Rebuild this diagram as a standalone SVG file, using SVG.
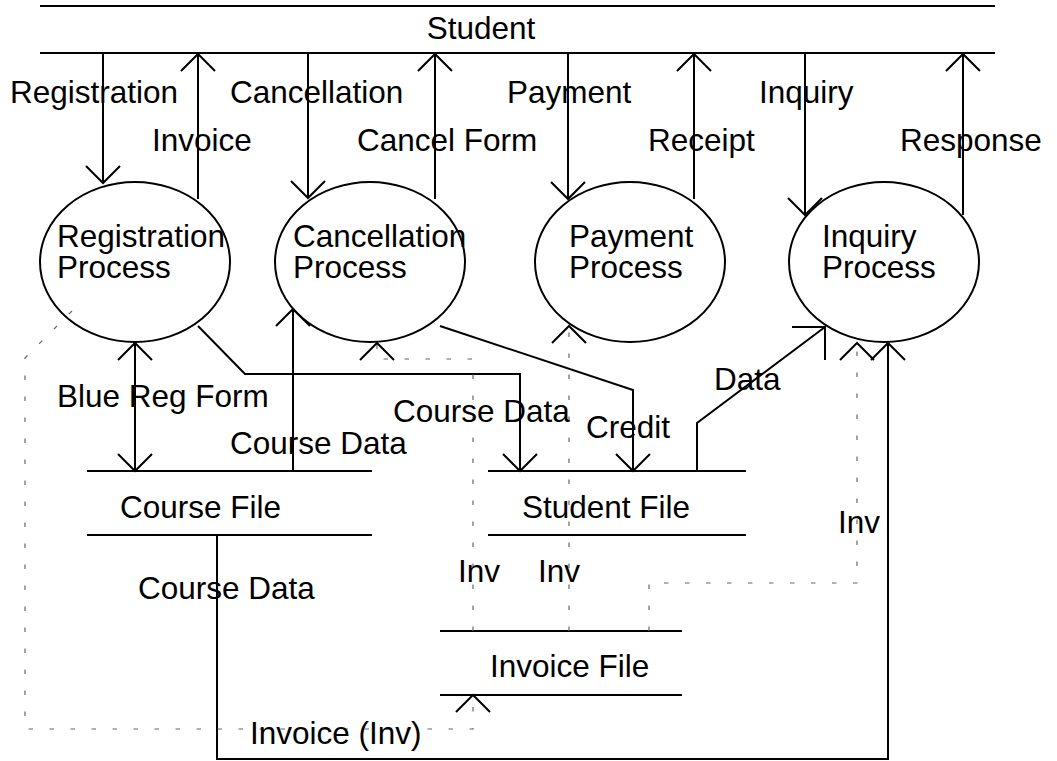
<svg xmlns="http://www.w3.org/2000/svg" width="1057" height="761" viewBox="0 0 1057 761">
<style>
text{font-family:"Liberation Sans",Arial,sans-serif;font-size:31.5px;fill:#000}
.s{fill:none;stroke:#000;stroke-width:2}
.d{fill:none;stroke:#666;stroke-width:1.2;stroke-dasharray:4.5 16.5}
.a{marker-end:url(#arr)}
</style>
<defs>
<marker id="arr" markerUnits="userSpaceOnUse" viewBox="-20 -20 40 40" markerWidth="40" markerHeight="40" refX="0" refY="0" orient="auto-start-reverse">
<path d="M-17,-17 L0,0 L-17,17" fill="none" stroke="#000" stroke-width="2"/>
</marker>
</defs>
<rect width="1057" height="761" fill="#fff"/>
<g id="student">
<path class="s" d="M40,6 H995 M40,53 H995"/>
<text x="481" y="39" text-anchor="middle">Student</text>
</g>
<g id="registration-process">
<ellipse class="s" cx="135" cy="262" rx="95" ry="80"/>
<text x="57" y="247">Registration</text>
<text x="57" y="278">Process</text>
</g>
<g id="cancellation-process">
<ellipse class="s" cx="370" cy="262" rx="95" ry="80"/>
<text x="293" y="247">Cancellation</text>
<text x="293" y="278">Process</text>
</g>
<g id="payment-process">
<ellipse class="s" cx="630" cy="262" rx="95" ry="80"/>
<text x="569" y="247">Payment</text>
<text x="569" y="278">Process</text>
</g>
<g id="inquiry-process">
<ellipse class="s" cx="884" cy="262" rx="95" ry="80"/>
<text x="822" y="247">Inquiry</text>
<text x="822" y="278">Process</text>
</g>
<g id="course-file">
<path class="s" d="M87,471 H372 M87,535 H372"/>
<text x="120" y="518">Course File</text>
</g>
<g id="student-file">
<path class="s" d="M488,471 H746 M488,535 H746"/>
<text x="522" y="518">Student File</text>
</g>
<g id="invoice-file">
<path class="s" d="M440,631 H682 M440,695 H682"/>
<text x="490" y="677">Invoice File</text>
</g>
<g id="connectors">
<path class="s a" d="M103,53 V183"/>
<path class="s a" d="M198,199 V54"/>
<path class="s a" d="M308,53 V198"/>
<path class="s a" d="M435,199 V54"/>
<path class="s a" d="M568,53 V199"/>
<path class="s a" d="M694,199 V54"/>
<path class="s a" d="M805,53 V215"/>
<path class="s a" d="M963,215 V54"/>
<path class="s a" d="M135,343 V471" style="marker-start:url(#arr)"/>
<path class="s a" d="M293,471 V309"/>
<path class="s a" d="M198,326 L245,374 H520 V471"/>
<path class="s a" d="M440,326 L633,390 V471"/>
<path class="s" d="M697,471 V423 L825,327 M792,327 H825 V360"/>
<path class="s a" d="M217,535 V759 H888 V343"/>
<path class="d a" d="M72,311 L25,358 V729 H473 V695"/>
<path class="d a" d="M473,631 V359 H377 V343"/>
<path class="d a" d="M569,631 V326"/>
<path class="d a" d="M649,631 V583 H857 V343"/>
<text x="10" y="103">Registration</text>
<text x="152" y="151">Invoice</text>
<text x="230" y="103">Cancellation</text>
<text x="357" y="151">Cancel Form</text>
<text x="507" y="103">Payment</text>
<text x="648" y="151">Receipt</text>
<text x="759" y="103">Inquiry</text>
<text x="900" y="151">Response</text>
<text x="57" y="407">Blue Reg Form</text>
<text x="230" y="454">Course Data</text>
<text x="393" y="422">Course Data</text>
<text x="586" y="438">Credit</text>
<text x="714" y="390">Data</text>
<text x="838" y="533">Inv</text>
<text x="458" y="582">Inv</text>
<text x="538" y="582">Inv</text>
<text x="138" y="599">Course Data</text>
<text x="250" y="744">Invoice (Inv)</text>
</g>
</svg>
